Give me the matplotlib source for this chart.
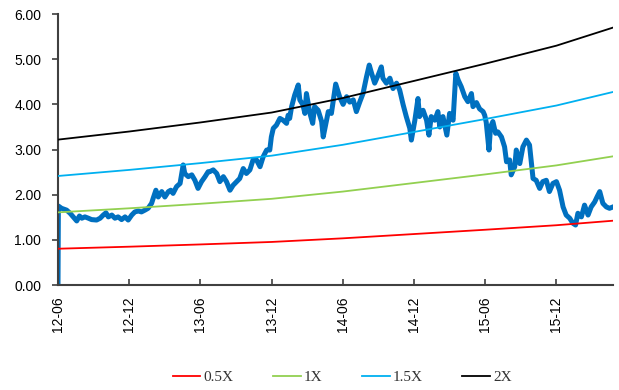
import matplotlib
matplotlib.use("Agg")
import matplotlib.pyplot as plt
import matplotlib.dates as mdates
import pandas as pd

start_date = "2012-06-01"

# price series: day offsets from start_date and values
price_days = [0, 1, 9, 22, 31, 39, 48, 55, 61, 69, 78, 86, 99, 108, 116, 123, 129, 138, 146, 154,
              163, 172, 180, 189, 197, 206, 214, 223, 231, 240, 244, 251, 257, 266, 274, 283, 289,
              295, 304, 313, 321, 325, 334, 343, 351, 359, 368, 377, 385, 389, 398, 407, 415, 424,
              432, 441, 449, 458, 466, 475, 483, 492, 500, 509, 518, 526, 535, 543, 547, 552, 560,
              569, 577, 586, 590, 594, 599, 607, 616, 620, 628, 633, 637, 646, 653, 658, 667, 676,
              680, 688, 693, 701, 712, 722, 731, 740, 748, 757, 765, 774, 782, 791, 798, 804, 812,
              821, 829, 833, 842, 851, 859, 868, 876, 885, 893, 902, 906, 915, 923, 927, 936, 945,
              951, 957, 966, 974, 979, 987, 997, 1004, 1013, 1020, 1026, 1034, 1043, 1051, 1060,
              1064, 1073, 1081, 1090, 1094, 1098, 1105, 1109, 1115, 1122, 1128, 1137, 1145, 1150,
              1158, 1162, 1171, 1175, 1184, 1192, 1201, 1209, 1214, 1218, 1226, 1235, 1243, 1252,
              1260, 1269, 1278, 1286, 1295, 1303, 1312, 1320, 1327, 1333, 1342, 1350, 1359, 1367,
              1376, 1382, 1389, 1397, 1406, 1414, 1423]
price_values = [0.00, 1.75, 1.70, 1.66, 1.59, 1.51, 1.42, 1.53, 1.48, 1.51, 1.48, 1.45, 1.44, 1.48,
                1.55, 1.60, 1.51, 1.55, 1.48, 1.51, 1.45, 1.51, 1.44, 1.55, 1.62, 1.64, 1.62, 1.66,
                1.70, 1.81, 1.92, 2.10, 1.95, 2.07, 1.95, 2.07, 2.10, 2.03, 2.18, 2.25, 2.66, 2.47,
                2.40, 2.44, 2.32, 2.14, 2.29, 2.40, 2.51, 2.51, 2.55, 2.47, 2.29, 2.40, 2.29, 2.10,
                2.21, 2.29, 2.36, 2.58, 2.47, 2.55, 2.77, 2.77, 2.62, 2.84, 2.99, 2.99, 3.28, 3.47,
                3.54, 3.69, 3.65, 3.58, 3.76, 3.69, 3.95, 4.21, 4.43, 4.10, 3.99, 3.80, 4.24, 3.80,
                3.58, 3.95, 3.87, 3.62, 3.28, 3.62, 3.84, 3.80, 4.45, 4.17, 4.00, 4.17, 4.05, 4.10,
                3.84, 4.06, 4.24, 4.61, 4.87, 4.69, 4.47, 4.65, 4.83, 4.58, 4.47, 4.58, 4.35, 4.47,
                4.32, 3.99, 3.73, 3.47, 3.21, 3.65, 4.13, 3.73, 3.87, 3.65, 3.32, 3.73, 3.65, 3.84,
                3.50, 3.73, 3.32, 3.80, 3.65, 4.69, 4.54, 4.39, 4.17, 4.06, 4.24, 3.95, 4.04, 3.90,
                3.84, 3.76, 3.60, 2.99, 3.50, 3.62, 3.36, 3.39, 3.28, 3.06, 2.73, 2.77, 2.44, 2.62,
                2.99, 2.69, 3.06, 3.21, 3.10, 2.69, 2.36, 2.32, 2.14, 2.29, 2.32, 2.07, 2.25, 2.29,
                2.10, 1.73, 1.55, 1.48, 1.37, 1.33, 1.59, 1.51, 1.77, 1.55, 1.73, 1.84, 1.95, 2.07,
                1.81, 1.73, 1.70, 1.73]

# band base (1X) at half-year points
band_dates = ["2012-06-01", "2012-12-01", "2013-06-01", "2013-12-01", "2014-06-01",
              "2014-12-01", "2015-06-01", "2015-12-01", "2016-04-24"]
band_base = [1.61, 1.70, 1.80, 1.91, 2.07, 2.26, 2.45, 2.65, 2.85]
multiples = [0.5, 1.0, 1.5, 2.0]
band_labels = ["0.5X", "1X", "1.5X", "2X"]
band_colors = ["#FF0000", "#92D050", "#00B0F0", "#000000"]

tick_dates = ["2012-06-01", "2012-12-01", "2013-06-01", "2013-12-01", "2014-06-01",
              "2014-12-01", "2015-06-01", "2015-12-01"]
y_ticks = [0, 1, 2, 3, 4, 5, 6]

plt.rcParams['font.family'] = ['Liberation Sans', 'DejaVu Sans']

fig = plt.figure(figsize=(6.19, 3.90), dpi=100)
ax = fig.add_axes([0.0937, 0.269, 0.8966, 0.695])

t0 = pd.Timestamp(start_date)
px = [t0 + pd.Timedelta(days=d) for d in price_days]
ax.plot(px, price_values, color="#0070C0", lw=3.6, zorder=2, solid_joinstyle="round")

bd = pd.to_datetime(band_dates)
handles = []
for m, lab, c in zip(multiples, band_labels, band_colors):
    h, = ax.plot(bd, [m * v for v in band_base], color=c, lw=1.3, label=lab, zorder=3)
    handles.append(h)

ax.set_ylim(0, 6)
ax.set_yticks(y_ticks)
ax.yaxis.set_major_formatter(matplotlib.ticker.FormatStrFormatter('%.2f'))
ax.set_xlim(t0, t0 + pd.Timedelta(days=price_days[-1]))
ax.set_xticks(pd.to_datetime(tick_dates))
ax.xaxis.set_major_formatter(mdates.DateFormatter('%y-%m'))
for lbl in ax.get_xticklabels():
    lbl.set_rotation(90)

for s in ["top", "right"]:
    ax.spines[s].set_visible(False)
for s in ["left", "bottom"]:
    ax.spines[s].set_color("#404040")
    ax.spines[s].set_linewidth(1.5)
ax.tick_params(axis='y', direction='out', length=4, width=1.2, color="#404040",
               labelsize=10, pad=8)
ax.tick_params(axis='x', direction='in', length=4, width=1.2, color="#404040",
               labelsize=10, pad=8)

leg = fig.legend(handles=handles, loc='center', bbox_to_anchor=(0.553, 0.033), ncol=4,
                 frameon=False, handlelength=1.8, handletextpad=0.2, columnspacing=2.6,
                 prop={'family': 'Liberation Serif', 'size': 11})
for t in leg.get_texts():
    t.set_color("#333333")

fig.savefig("out.png", dpi=100)
